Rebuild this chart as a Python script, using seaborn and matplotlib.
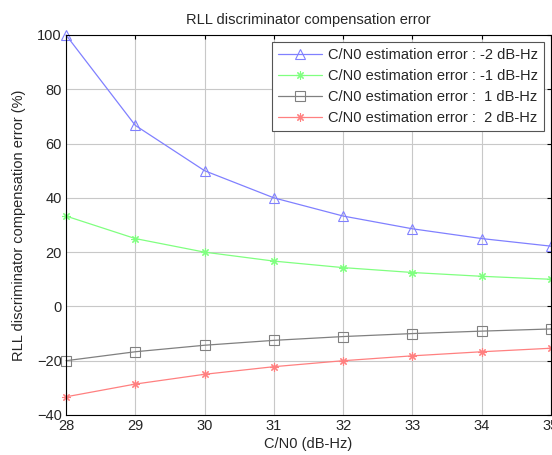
import matplotlib
matplotlib.use("Agg")
import matplotlib.pyplot as plt
import seaborn as sns
import pandas as pd

cn0 = [28, 29, 30, 31, 32, 33, 34, 35]
err_m2 = [100.0, 66.7, 50.0, 40.0, 33.3, 28.6, 25.0, 22.2]
err_m1 = [33.3, 25.0, 20.0, 16.7, 14.3, 12.5, 11.1, 10.0]
err_p1 = [-20.0, -16.7, -14.3, -12.5, -11.1, -10.0, -9.1, -8.3]
err_p2 = [-33.3, -28.6, -25.0, -22.2, -20.0, -18.2, -16.7, -15.4]
labels = ["C/N0 estimation error : -2 dB-Hz",
          "C/N0 estimation error : -1 dB-Hz",
          "C/N0 estimation error :  1 dB-Hz",
          "C/N0 estimation error :  2 dB-Hz"]
xticks = [28, 29, 30, 31, 32, 33, 34, 35]
yticks = [-40, -20, 0, 20, 40, 60, 80, 100]

sns.set_style("white")
plt.rcParams['font.family'] = ['Liberation Sans', 'DejaVu Sans']

fig = plt.figure(figsize=(5.52, 4.55), dpi=100)
ax = fig.add_axes([66/552, 1-415/455, (551-66)/552, (415-35)/455])

colors = ["#8080ff", "#80ff80", "#808080", "#ff8080"]
markers = ["^", (8, 2, 0), "s", (8, 2, 0)]
msizes = [7, 6, 7, 6]
series = [err_m2, err_m1, err_p1, err_p2]
for vals, lab, c, m, ms in zip(series, labels, colors, markers, msizes):
    df = pd.DataFrame({"x": cn0, "y": vals})
    sns.lineplot(data=df, x="x", y="y", ax=ax, color=c, marker=m,
                 markersize=ms, markerfacecolor="none", markeredgecolor=c,
                 markeredgewidth=0.8, linewidth=0.9, label=lab, clip_on=False)

ax.set_xlim(28, 35)
ax.set_ylim(-40, 100)
ax.set_xticks(xticks)
ax.set_yticks(yticks)
ax.grid(True, color="#c8c8c8", linewidth=0.8)
ax.tick_params(direction="in", top=True, right=True, length=3, labelsize=10.5,
               color="black", pad=3)
for s in ax.spines.values():
    s.set_color("black")
    s.set_linewidth(0.8)
ax.set_xlabel("C/N0 (dB-Hz)", fontsize=10.5, labelpad=3)
ax.set_ylabel("RLL discriminator compensation error (%)", fontsize=10.5, labelpad=8)
ax.set_title("RLL discriminator compensation error", fontsize=10.5, pad=8)

leg = ax.legend(loc="upper right", fontsize=10.5,
                frameon=True, fancybox=False, framealpha=1, edgecolor="#555555",
                handlelength=3.0, borderpad=0.4, labelspacing=0.48,
                handletextpad=0.45, borderaxespad=0)
leg.set_bbox_to_anchor((544/552, 1-42/455), transform=fig.transFigure)
leg.get_frame().set_linewidth(0.8)

fig.savefig("out.png", dpi=100)
